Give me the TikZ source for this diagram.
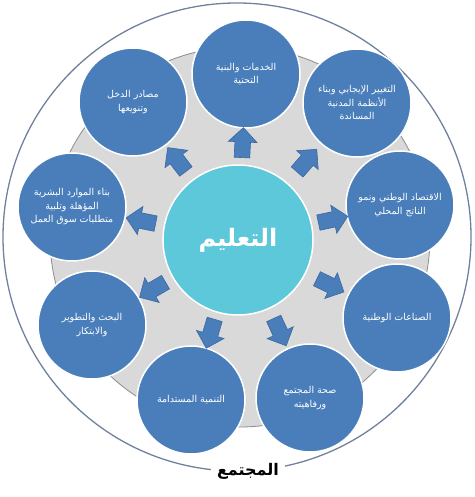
\documentclass[tikz,border=0pt]{standalone}
\usepackage{fontspec}
\newfontfamily\arabicfont[Script=Arabic]{DejaVu Sans}
\TeXXeTstate=1
\usetikzlibrary{shapes.arrows}
\definecolor{satblue}{HTML}{4A7EBB}
\definecolor{satedge}{HTML}{3A679F}
\definecolor{educyan}{HTML}{5DC8D9}
\definecolor{ringgray}{HTML}{D9D9D9}
\definecolor{ringedge}{HTML}{8C8C8C}
\definecolor{outeredge}{HTML}{6F819C}
\newcommand{\ar}[1]{{\arabicfont\beginR #1\endR}}
\tikzset{
  satellite/.style={circle, fill=satblue, draw=white, line width=1.5pt,
    minimum size=108pt, inner sep=0pt, text=white, align=center,
    font=\fontsize{9.5}{13.5}\selectfont},
  hub/.style={circle, fill=educyan, draw=white, line width=1.5pt,
    minimum size=150pt, inner sep=0pt, text=white,
    font=\fontsize{24}{28}\selectfont\bfseries},
  arrowbox/.style={single arrow, fill=satblue, draw=satedge, line width=0.6pt,
    minimum height=30pt, inner sep=7.5pt, single arrow head extend=6.5pt,
    single arrow head indent=0pt}
}
\begin{document}
\begin{tikzpicture}[x=1pt, y=1pt]
    \useasboundingbox (0,0) rectangle (474,497);

    % Outer ring and gray disc
    \draw[outeredge, line width=1.3pt] (237,260) circle (234);
    \draw[ringedge, line width=0.8pt, fill=ringgray] (240,260) circle (190);

    % Hub
    \node[hub] (edu) at (238,257) {\ar{التعليم}};

    % Satellites
    \node[satellite] (s1) at (246,423) {\ar{الخدمات والبنية}\\\ar{التحتية}};
    \node[satellite] (s2) at (357,394) {\ar{التغيير الإيجابي وبناء}\\\ar{الأنظمة المدنية}\\\ar{المساندة}};
    \node[satellite] (s3) at (400,292) {\ar{الاقتصاد الوطني ونمو}\\\ar{الناتج المحلي}};
    \node[satellite] (s4) at (397,179) {\ar{الصناعات الوطنية}};
    \node[satellite] (s5) at (310,99) {\ar{صحة المجتمع}\\\ar{ورفاهيته}};
    \node[satellite] (s6) at (191,97) {\ar{التنمية المستدامة}};
    \node[satellite] (s7) at (92,172) {\ar{البحث والتطوير}\\\ar{والابتكار}};
    \node[satellite] (s8) at (72,290) {\ar{بناء الموارد البشرية}\\\ar{المؤهلة وتلبية}\\\ar{متطلبات سوق العمل}};
    \node[satellite] (s9) at (133,395) {\ar{مصادر الدخل}\\\ar{وتنويعها}};

    % Arrows from hub to satellites
    \foreach \i in {1,...,9} {
        \path (edu) -- node[arrowbox, sloped, allow upside down] (a\i) {} (s\i);
    }

    % Label on the outer ring
    \node[fill=white, inner xsep=6pt, inner ysep=1pt, font=\fontsize{16}{18}\selectfont\bfseries] (soc) at (248,26) {\ar{المجتمع}};
\end{tikzpicture}
\end{document}
